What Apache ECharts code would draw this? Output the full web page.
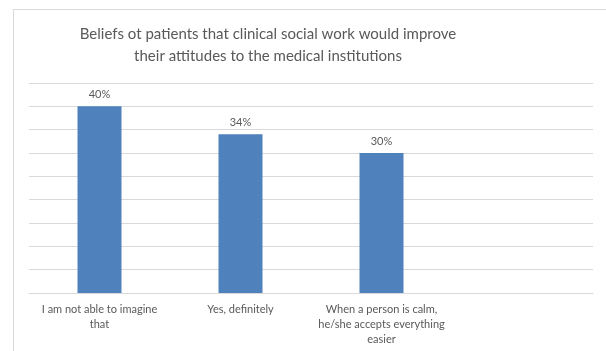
<!DOCTYPE html>
<html>
<head>
<meta charset="utf-8">
<script src="https://cdn.jsdelivr.net/npm/echarts@6/dist/echarts.min.js"></script>
<style>
  html, body { margin: 0; padding: 0; background: #fff; }
  #chart { width: 606px; height: 351px; }
</style>
</head>
<body>
<div id="chart"></div>
<script>
// Survey answers and their shares (percent)
const categories = [
  'I am not able to imagine\nthat',
  'Yes, definitely',
  'When a person is calm,\nhe/she accepts everything\neasier',
  ''
];
const shares = [40, 34, 30, null];

const titleText = 'Beliefs ot patients that clinical social work would improve\ntheir attitudes to the medical institutions';

const textColor = '#595959';
const gridColor = '#d9d9d9';
const fontFamily = 'Lato, "Open Sans", sans-serif';

const chart = echarts.init(document.getElementById('chart'));
chart.setOption({
  animation: false,
  backgroundColor: '#fff',
  title: {
    text: titleText,
    left: 268,
    top: 23,
    textAlign: 'center',
    padding: 0,
    textStyle: {
      color: textColor,
      fontFamily: fontFamily,
      fontWeight: 'normal',
      fontSize: 15,
      lineHeight: 22
    }
  },
  graphic: [{
    type: 'polyline',
    shape: { points: [[13.5, 351], [13.5, 9.5], [606, 9.5]] },
    style: { stroke: gridColor, lineWidth: 1, fill: null },
    silent: true
  }],
  grid: { left: 29, right: 13, top: 83, bottom: 58 },
  xAxis: {
    type: 'category',
    data: categories,
    axisLine: { show: true, lineStyle: { color: gridColor } },
    axisTick: { show: false },
    axisLabel: {
      interval: 0,
      margin: 9,
      color: textColor,
      fontFamily: fontFamily,
      fontSize: 11,
      lineHeight: 15
    }
  },
  yAxis: {
    type: 'value',
    min: 0,
    max: 45,
    interval: 5,
    axisLabel: { show: false },
    axisLine: { show: false },
    axisTick: { show: false },
    splitLine: { lineStyle: { color: gridColor } }
  },
  series: [{
    type: 'bar',
    data: shares,
    barWidth: 44,
    itemStyle: { color: '#4f81bd' },
    label: {
      show: true,
      position: 'top',
      distance: 6,
      formatter: p => p.value + '%',
      color: textColor,
      fontFamily: fontFamily,
      fontSize: 11
    }
  }]
});
</script>
</body>
</html>
